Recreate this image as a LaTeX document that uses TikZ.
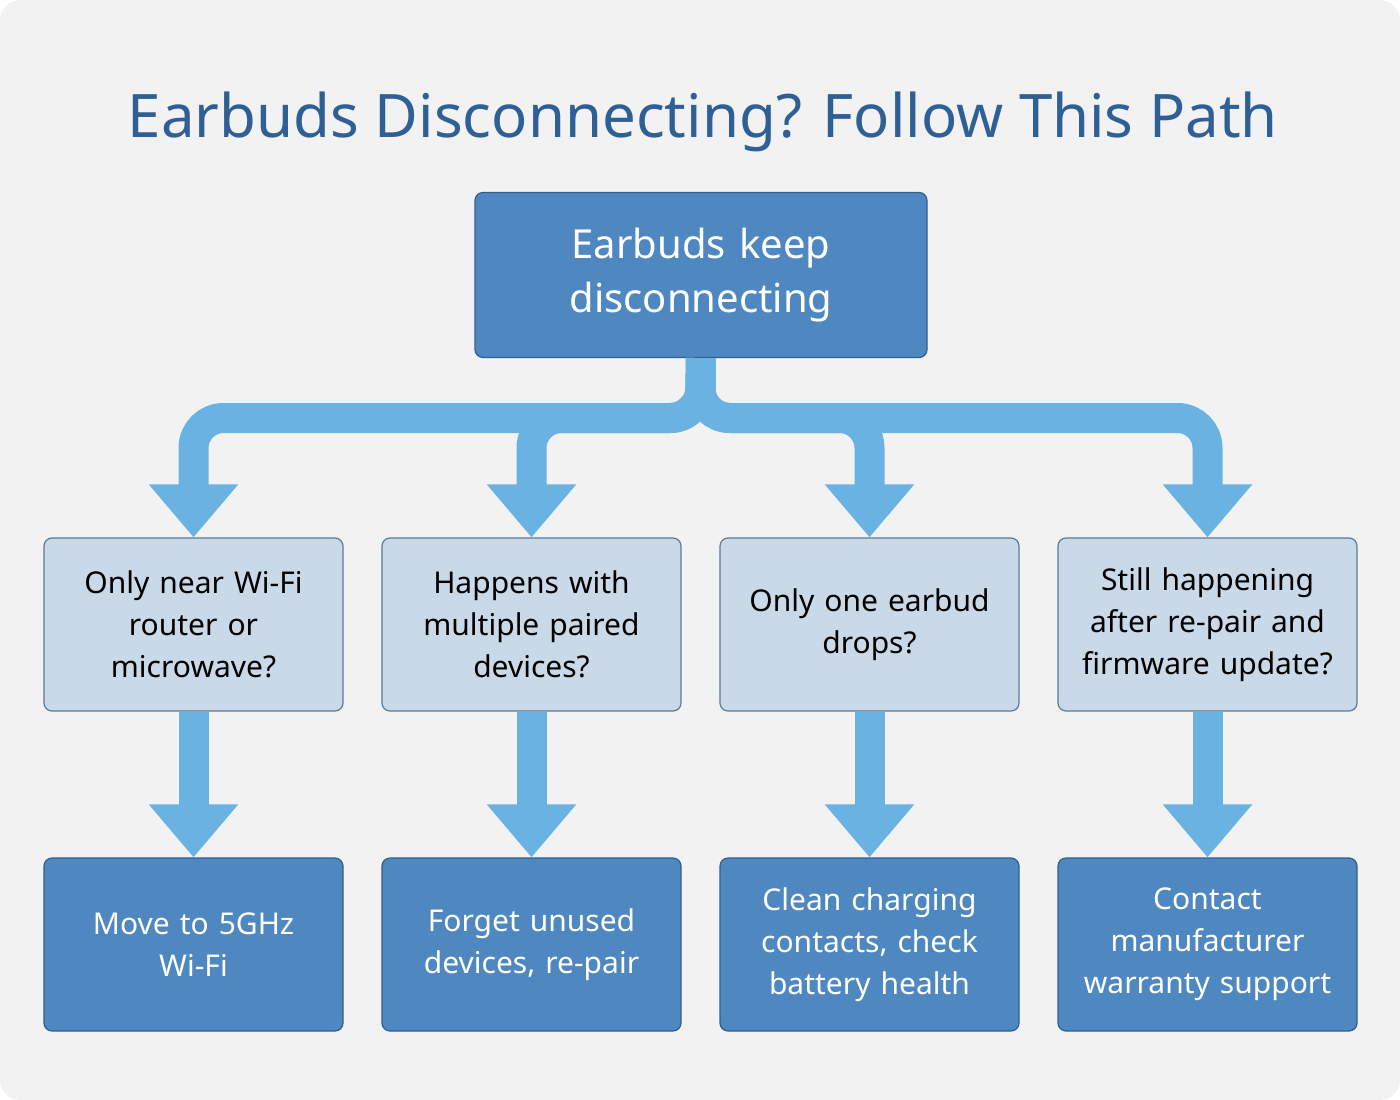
\documentclass[tikz,border=0pt]{standalone}
\usepackage{fontspec}
\setmainfont{Noto Sans}
\usetikzlibrary{arrows.meta}
\definecolor{bg}{HTML}{F2F2F2}
\definecolor{ttl}{HTML}{2E6096}
\definecolor{dk}{HTML}{4F88C0}
\definecolor{dkb}{HTML}{2F5F8F}
\definecolor{lt}{HTML}{C9D9E8}
\definecolor{ltb}{HTML}{5A7A9A}
\definecolor{arr}{HTML}{6AB2E2}
\begin{document}
\begin{tikzpicture}[x=1pt,y=-1pt,
 box/.style={draw, line width=1.2pt, rounded corners=8pt, minimum width=299pt, minimum height=173pt, align=center, inner sep=0pt, text width=280pt},
 q/.style={box, fill=lt, draw=ltb, font=\fontsize{30}{42}\selectfont},
 a/.style={box, fill=dk, draw=dkb, text=white, font=\fontsize{30}{42}\selectfont},
 conn/.style={draw=arr, line width=30pt, rounded corners=30pt, -{Triangle[width=86pt,length=53pt]}}]
\fill[bg, rounded corners=20pt] (0,0) rectangle (1400,1100);
\useasboundingbox (0,0) rectangle (1400,1100);
\node[text=ttl, font=\fontsize{60}{70}\selectfont\bfseries] (title) at (703,122) {Earbuds Disconnecting? Follow This Path};
\node[box, fill=dk, draw=dkb, text=white, minimum width=452pt, minimum height=165pt, text width=420pt, font=\fontsize{40}{54}\selectfont\bfseries] (top) at (701,275) {Earbuds keep\\disconnecting};
\node[q] (q1) at (193.5,624.5) {Only near Wi-Fi\\router or\\microwave?};
\node[q] (q2) at (531.5,624.5) {Happens with\\multiple paired\\devices?};
\node[q] (q3) at (869.5,624.5) {Only one earbud\\drops?};
\node[q] (q4) at (1207.5,624.5) {Still happening\\after re-pair and\\firmware update?};
\node[a] (a1) at (193.5,944.5) {Move to 5GHz\\Wi-Fi};
\node[a] (a2) at (531.5,944.5) {Forget unused\\devices, re-pair};
\node[a] (a3) at (869.5,944.5) {Clean charging\\contacts, check\\battery health};
\node[a] (a4) at (1207.5,944.5) {Contact\\manufacturer\\warranty support};
\coordinate (j) at (700,418);
\foreach \i in {1,2,3,4}{
 \draw[conn] (top.south) -- (j) -- (q\i.north |- j) -- (q\i.north);
 \draw[conn] (q\i.south) -- (a\i.north);
}
\end{tikzpicture}
\end{document}
